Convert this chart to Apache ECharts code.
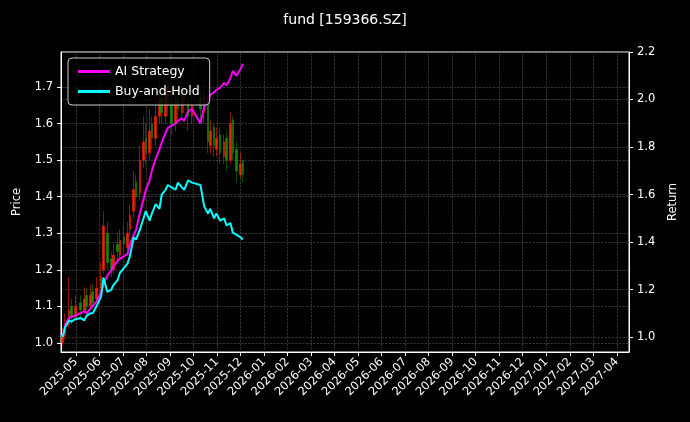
<!DOCTYPE html>
<html><head><meta charset="utf-8">
<script src="https://cdn.jsdelivr.net/npm/echarts@6/dist/echarts.min.js"></script>
<style>html,body{margin:0;background:#000}#c{width:690px;height:422px}</style>
</head><body><div id="c"></div>
<script>
const dates = ['2025-04-14','2025-04-17','2025-04-22','2025-04-25','2025-04-30','2025-05-07','2025-05-12','2025-05-15','2025-05-20','2025-05-23','2025-05-28','2025-06-03','2025-06-06','2025-06-11','2025-06-16','2025-06-19','2025-06-24','2025-06-27','2025-07-02','2025-07-07','2025-07-10','2025-07-15','2025-07-18','2025-07-23','2025-07-28','2025-07-31','2025-08-05','2025-08-08','2025-08-13','2025-08-18','2025-08-21','2025-08-26','2025-08-29','2025-09-03','2025-09-08','2025-09-11','2025-09-16','2025-09-19','2025-09-24','2025-09-29','2025-10-10','2025-10-15','2025-10-20','2025-10-23','2025-10-28','2025-10-31','2025-11-05','2025-11-10','2025-11-13','2025-11-18','2025-11-21','2025-11-26','2025-12-01','2025-12-04'];
const closeP = [1.02,1.05,1.09,1.07,1.10,1.09,1.12,1.10,1.13,1.11,1.15,1.18,1.32,1.22,1.20,1.24,1.25,1.28,1.27,1.30,1.35,1.42,1.40,1.50,1.55,1.52,1.58,1.56,1.62,1.66,1.63,1.70,1.65,1.60,1.66,1.64,1.68,1.66,1.62,1.65,1.64,1.68,1.55,1.58,1.54,1.56,1.52,1.55,1.50,1.60,1.52,1.47,1.49,1.46];
const openP  = [1.00,1.02,1.05,1.10,1.07,1.11,1.09,1.13,1.10,1.14,1.12,1.15,1.20,1.30,1.23,1.20,1.27,1.24,1.29,1.26,1.31,1.36,1.44,1.41,1.50,1.56,1.52,1.60,1.56,1.62,1.67,1.62,1.71,1.66,1.60,1.67,1.63,1.69,1.66,1.62,1.67,1.63,1.67,1.54,1.59,1.53,1.57,1.51,1.56,1.50,1.61,1.53,1.46,1.50];
const lowP   = [0.99,1.01,1.04,1.05,1.06,1.07,1.08,1.08,1.09,1.09,1.11,1.14,1.19,1.20,1.18,1.19,1.22,1.23,1.25,1.25,1.29,1.34,1.37,1.39,1.48,1.49,1.50,1.53,1.54,1.60,1.60,1.60,1.62,1.57,1.58,1.61,1.61,1.63,1.58,1.60,1.61,1.60,1.52,1.52,1.51,1.51,1.49,1.49,1.47,1.49,1.50,1.44,1.45,1.44];
const highP  = [1.04,1.08,1.18,1.12,1.13,1.13,1.15,1.15,1.16,1.16,1.18,1.22,1.36,1.33,1.25,1.27,1.30,1.31,1.32,1.33,1.38,1.47,1.46,1.54,1.62,1.60,1.64,1.62,1.66,1.72,1.70,1.75,1.73,1.68,1.70,1.70,1.72,1.71,1.68,1.68,1.70,1.71,1.69,1.61,1.60,1.59,1.59,1.57,1.58,1.63,1.62,1.55,1.52,1.50];
const strategy = [1.00,1.05,1.08,1.085,1.09,1.10,1.11,1.10,1.12,1.13,1.15,1.19,1.22,1.26,1.28,1.30,1.32,1.33,1.34,1.35,1.39,1.43,1.45,1.52,1.58,1.62,1.66,1.70,1.75,1.79,1.82,1.86,1.88,1.89,1.90,1.91,1.92,1.91,1.95,1.96,1.90,1.97,1.99,2.02,2.03,2.04,2.05,2.07,2.06,2.09,2.12,2.10,2.13,2.15];
const buyHold = [1.00,1.04,1.07,1.065,1.075,1.08,1.07,1.09,1.10,1.10,1.13,1.17,1.25,1.19,1.20,1.22,1.24,1.27,1.29,1.31,1.34,1.42,1.41,1.45,1.50,1.53,1.49,1.52,1.56,1.54,1.60,1.62,1.64,1.63,1.62,1.65,1.63,1.62,1.66,1.65,1.64,1.55,1.52,1.54,1.50,1.52,1.49,1.50,1.47,1.48,1.44,1.43,1.42,1.41];
const monthLabels = ['2025-05','2025-06','2025-07','2025-08','2025-09','2025-10','2025-11','2025-12','2026-01','2026-02','2026-03','2026-04','2026-05','2026-06','2026-07','2026-08','2026-09','2026-10','2026-11','2026-12','2027-01','2027-02','2027-03','2027-04'];
const priceTicks = [1.0,1.1,1.2,1.3,1.4,1.5,1.6,1.7];
const returnTicks = [1.0,1.2,1.4,1.6,1.8,2.0,2.2];

function mIdx(s){const [y,m,d]=s.split('-').map(Number);const dim=new Date(y,m,0).getDate();return (y-2025)*12+(m-5)+(d-1)/dim;}
const xs = dates.map(mIdx);
const monthIdx = monthLabels.map((_, i) => i);
const candle = xs.map((x,i)=>[x,openP[i],closeP[i],lowP[i],highP[i]]);
const grid = {lineStyle:{color:'#555',type:'dashed',width:0.6}};
const txt = {color:'#fff',fontFamily:'DejaVu Sans',fontSize:11.5};
const chart = echarts.init(document.getElementById('c'));
chart.setOption({
  backgroundColor:'#000', animation:false,
  title:{text:'fund [159366.SZ]',left:'center',top:8,textStyle:{color:'#fff',fontFamily:'DejaVu Sans',fontSize:14,fontWeight:'normal'}},
  legend:{orient:'vertical',left:68,top:58,padding:[7,10],itemGap:7,itemWidth:32,itemHeight:3,borderColor:'#ccc',borderWidth:1,borderRadius:4,backgroundColor:'rgba(0,0,0,0.8)',
    textStyle:{color:'#fff',fontFamily:'DejaVu Sans',fontSize:12.5},data:[{name:'AI Strategy',icon:'rect'},{name:'Buy-and-Hold',icon:'rect'}]},
  grid:{left:61,right:61,top:52,bottom:70,show:true,borderColor:'#fff',borderWidth:1,backgroundColor:'transparent'},
  xAxis:{type:'value',min:-0.64,max:23.52,
    axisLine:{onZero:false,lineStyle:{color:'#fff'}},
    axisTick:{customValues:monthIdx,lineStyle:{color:'#fff'},length:4},
    axisLabel:Object.assign({customValues:monthIdx,rotate:45,formatter:v=>monthLabels[Math.round(v)]},txt),
    splitLine:Object.assign({show:true},grid)},
  yAxis:[
    {type:'value',min:0.975,max:1.796,name:'Price',nameLocation:'middle',nameGap:38,nameTextStyle:txt,
     axisLine:{show:true,onZero:false,lineStyle:{color:'#fff'}},axisTick:{show:true,customValues:priceTicks,lineStyle:{color:'#fff'},length:4},
     axisLabel:Object.assign({customValues:priceTicks,formatter:v=>v.toFixed(1)},txt),splitLine:Object.assign({show:true},grid)},
    {type:'value',min:0.937,max:2.2,name:'Return',nameLocation:'middle',nameGap:38,nameTextStyle:txt,
     axisLine:{show:true,onZero:false,lineStyle:{color:'#fff'}},axisTick:{show:true,customValues:returnTicks,lineStyle:{color:'#fff'},length:4},
     axisLabel:Object.assign({customValues:returnTicks,formatter:v=>v.toFixed(1)},txt),splitLine:Object.assign({show:true},grid)}
  ],
  series:[
    {type:'candlestick',data:candle,encode:{x:0,y:[1,2,3,4]},yAxisIndex:0,barWidth:2,
     itemStyle:{color:'#ee2200',color0:'#138a00',borderColor:'#ee2200',borderColor0:'#138a00',borderWidth:0.6}},
    {name:'AI Strategy',type:'line',yAxisIndex:1,data:xs.map((x,i)=>[x,strategy[i]]),showSymbol:false,lineStyle:{color:'#ff00ff',width:2},itemStyle:{color:'#ff00ff'}},
    {name:'Buy-and-Hold',type:'line',yAxisIndex:1,data:xs.map((x,i)=>[x,buyHold[i]]),showSymbol:false,lineStyle:{color:'#00ffff',width:2},itemStyle:{color:'#00ffff'}}
  ]
});
</script></body></html>
